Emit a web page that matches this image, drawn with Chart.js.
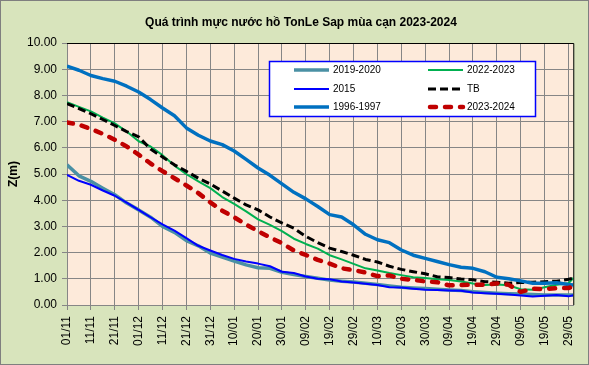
<!DOCTYPE html>
<html>
<head>
<meta charset="utf-8">
<script src="https://cdn.jsdelivr.net/npm/chart.js@4/dist/chart.umd.min.js"></script>
<style>
    html, body { margin: 0; padding: 0; background: #D8E4BC; }
    #chart { display: block; }
</style>
</head>
<body>
<canvas id="chart" width="589" height="365"></canvas>
<script>
// ngày tính từ 01/11 (lấy mẫu 5 ngày một lần)
const days = [0, 5, 10, 15, 20, 25, 30, 35, 40, 45, 50, 55, 60, 65, 70, 75, 80, 85, 90, 95, 100,
    105, 110, 115, 120, 125, 130, 135, 140, 145, 150, 155, 160, 165, 170, 175, 180, 185, 190,
    195, 200, 205, 210, 212];

const tickLabels = ['01/11', '11/11', '21/11', '01/12', '11/12', '21/12', '31/12', '10/01', '20/01',
    '30/01', '09/02', '19/02', '29/02', '10/03', '20/03', '30/03', '09/04', '19/04', '29/04',
    '09/05', '19/05', '29/05'];

const y2019 = [5.35, 4.93, 4.72, 4.46, 4.21, 3.89, 3.63, 3.35, 3.00, 2.77, 2.46, 2.26, 1.98, 1.83,
    1.68, 1.53, 1.42, 1.40, 1.25, 1.16, 1.09, 1.02, 0.95, 0.91, 0.88, 0.83, 0.78, 0.73, 0.68, 0.65,
    0.63, 0.60, 0.57, 0.55, 0.51, 0.48, 0.45, 0.43, 0.42, 0.40, 0.38, 0.38, 0.38, 0.38];

const y2022 = [7.74, 7.56, 7.39, 7.15, 6.93, 6.62, 6.25, 6.05, 5.72, 5.32, 4.99, 4.72, 4.46, 4.12,
    3.86, 3.57, 3.27, 3.06, 2.82, 2.53, 2.33, 2.15, 1.90, 1.74, 1.57, 1.40, 1.32, 1.22, 1.14, 1.06,
    1.03, 0.98, 0.95, 0.90, 0.82, 0.76, 0.78, 0.75, 0.60, 0.58, 0.68, 0.77, 0.83, 1.03];

const y2015 = [4.97, 4.74, 4.59, 4.37, 4.17, 3.91, 3.63, 3.35, 3.08, 2.84, 2.55, 2.26, 2.08, 1.91,
    1.76, 1.66, 1.58, 1.48, 1.27, 1.22, 1.09, 1.00, 0.98, 0.90, 0.86, 0.81, 0.76, 0.68, 0.67, 0.62,
    0.58, 0.57, 0.55, 0.54, 0.48, 0.45, 0.43, 0.40, 0.36, 0.32, 0.35, 0.38, 0.33, 0.37];

const yTB = [7.69, 7.50, 7.30, 7.08, 6.85, 6.62, 6.42, 5.95, 5.65, 5.35, 5.10, 4.84, 4.62, 4.35,
    4.08, 3.82, 3.63, 3.36, 3.13, 2.93, 2.62, 2.38, 2.17, 2.04, 1.90, 1.74, 1.64, 1.48, 1.36, 1.27,
    1.19, 1.08, 1.05, 0.99, 0.96, 0.89, 0.87, 0.83, 0.86, 0.87, 0.89, 0.91, 0.98, 1.02];

const y1996 = [9.12, 8.96, 8.76, 8.64, 8.54, 8.35, 8.13, 7.84, 7.52, 7.22, 6.76, 6.48, 6.26, 6.12,
    5.88, 5.56, 5.23, 4.95, 4.62, 4.30, 4.05, 3.76, 3.45, 3.36, 3.06, 2.70, 2.49, 2.38, 2.10, 1.90,
    1.78, 1.66, 1.54, 1.44, 1.40, 1.27, 1.06, 1.00, 0.92, 0.83, 0.83, 0.85, 0.78, 0.76];

const y2023 = [6.97, 6.88, 6.72, 6.53, 6.31, 6.05, 5.74, 5.40, 5.11, 4.84, 4.56, 4.27, 3.92, 3.60,
    3.35, 3.07, 2.82, 2.58, 2.36, 2.08, 1.91, 1.72, 1.58, 1.40, 1.33, 1.24, 1.10, 1.13, 1.00, 0.96,
    0.90, 0.87, 0.75, 0.76, 0.78, 0.77, 0.82, 0.77, 0.50, 0.62, 0.61, 0.64, 0.65, 0.70];

const FONT = 'Liberation Sans';

function toPoints(values) {
    return values.map((v, i) => ({ x: days[i], y: v }));
}

// thứ tự chú giải giống Excel: từng hàng 2 cột
const legendOrder = ['2019-2020', '2022-2023', '2015', 'TB', '1996-1997', '2023-2024'];

const chartDecor = {
    id: 'chartDecor',
    beforeDraw(chart) {
        const { ctx, chartArea: a } = chart;
        ctx.save();
        ctx.fillStyle = '#D8E4BC';
        ctx.fillRect(0, 0, chart.width, chart.height);
        ctx.fillStyle = '#FDEADA';
        ctx.fillRect(a.left, a.top, a.right - a.left, a.bottom - a.top);
        ctx.restore();
    },
    afterDraw(chart) {
        const { ctx, chartArea: a } = chart;
        ctx.save();

        // viền vùng vẽ (trên, phải)
        ctx.strokeStyle = '#000000';
        ctx.lineWidth = 1;
        ctx.beginPath();
        ctx.moveTo(a.left, a.top + 0.5);
        ctx.lineTo(a.right + 0.5, a.top + 0.5);
        ctx.lineTo(a.right + 0.5, a.bottom);
        ctx.stroke();

        // viền ngoài
        ctx.strokeStyle = '#7F7F7F';
        ctx.strokeRect(0.5, 0.5, chart.width - 1, chart.height - 1);

        // tiêu đề
        ctx.fillStyle = '#000000';
        ctx.font = `bold 12px "${FONT}"`;
        ctx.textAlign = 'center';
        ctx.textBaseline = 'middle';
        ctx.fillText('Quá trình mực nước hồ TonLe Sap mùa cạn 2023-2024', 301, 23);

        // chú giải
        const box = { x: 269.5, y: 61.5, w: 266, h: 55 };
        ctx.fillStyle = '#FFFFFF';
        ctx.fillRect(box.x, box.y, box.w, box.h);
        ctx.strokeStyle = '#0000FF';
        ctx.lineWidth = 1.5;
        ctx.strokeRect(box.x, box.y, box.w, box.h);

        const colX = [294, 428];
        const rowY = [70, 89, 107];
        ctx.font = `10px "${FONT}"`;
        ctx.textAlign = 'left';
        legendOrder.forEach((label, i) => {
            const ds = chart.data.datasets.find((d) => d.label === label);
            const x = colX[i % 2];
            const y = rowY[Math.floor(i / 2)];
            ctx.save();
            ctx.strokeStyle = ds.borderColor;
            ctx.lineWidth = ds.borderWidth;
            ctx.lineCap = ds.borderCapStyle || 'butt';
            ctx.setLineDash(ds.borderDash || []);
            ctx.beginPath();
            ctx.moveTo(x + (ds.borderCapStyle === 'round' ? 2 : 0), y);
            ctx.lineTo(x + 35, y);
            ctx.stroke();
            ctx.restore();
            ctx.fillStyle = '#000000';
            ctx.fillText(label, x + 39, y + 0.5);
        });

        ctx.restore();
    }
};

const ctx = document.getElementById('chart').getContext('2d');
new Chart(ctx, {
    type: 'line',
    data: {
        datasets: [
            {
                label: '2019-2020', data: toPoints(y2019), order: 5,
                borderColor: '#4A90A4', borderWidth: 3.5
            },
            {
                label: '2022-2023', data: toPoints(y2022), order: 4,
                borderColor: '#00B050', borderWidth: 2
            },
            {
                label: '2015', data: toPoints(y2015), order: 3,
                borderColor: '#0000FF', borderWidth: 2
            },
            {
                label: 'TB', data: toPoints(yTB), order: 2,
                borderColor: '#000000', borderWidth: 3, borderDash: [8, 4]
            },
            {
                label: '1996-1997', data: toPoints(y1996), order: 1,
                borderColor: '#0070C0', borderWidth: 3.5
            },
            {
                label: '2023-2024', data: toPoints(y2023), order: 0,
                borderColor: '#C00000', borderWidth: 4.5, borderDash: [6, 9], borderCapStyle: 'round'
            }
        ]
    },
    options: {
        responsive: false,
        animation: false,
        devicePixelRatio: 1,
        layout: {
            padding: { top: 43, right: 11, bottom: 0, left: 0 }
        },
        elements: {
            point: { radius: 0 },
            line: { tension: 0, borderJoinStyle: 'round', fill: false }
        },
        plugins: {
            legend: { display: false },
            title: { display: false },
            tooltip: { enabled: false }
        },
        scales: {
            x: {
                type: 'linear',
                min: 0,
                max: 212,
                afterBuildTicks: (scale) => {
                    scale.ticks = tickLabels.map((_, i) => ({ value: i * 10 }));
                },
                afterFit: (scale) => { scale.height = 60; },
                grid: { color: '#868686', lineWidth: 1, tickLength: 5 },
                border: { color: '#868686', width: 1 },
                ticks: {
                    autoSkip: false,
                    minRotation: 90,
                    maxRotation: 90,
                    padding: 6,
                    color: '#000000',
                    font: { family: FONT, size: 12 },
                    callback: (value) => tickLabels[Math.round(value / 10)] || ''
                }
            },
            y: {
                min: 0,
                max: 10,
                afterFit: (scale) => { scale.width = 67; },
                grid: { color: '#868686', lineWidth: 1, tickLength: 5 },
                border: { color: '#868686', width: 1 },
                ticks: {
                    stepSize: 1,
                    padding: 5,
                    color: '#000000',
                    font: { family: FONT, size: 12 },
                    callback: (value) => value.toFixed(2)
                },
                title: {
                    display: true,
                    text: 'Z(m)',
                    color: '#000000',
                    font: { family: FONT, size: 12, weight: 'bold' },
                    padding: { top: 6, bottom: 0 }
                }
            }
        }
    },
    plugins: [chartDecor]
});
</script>
</body>
</html>
